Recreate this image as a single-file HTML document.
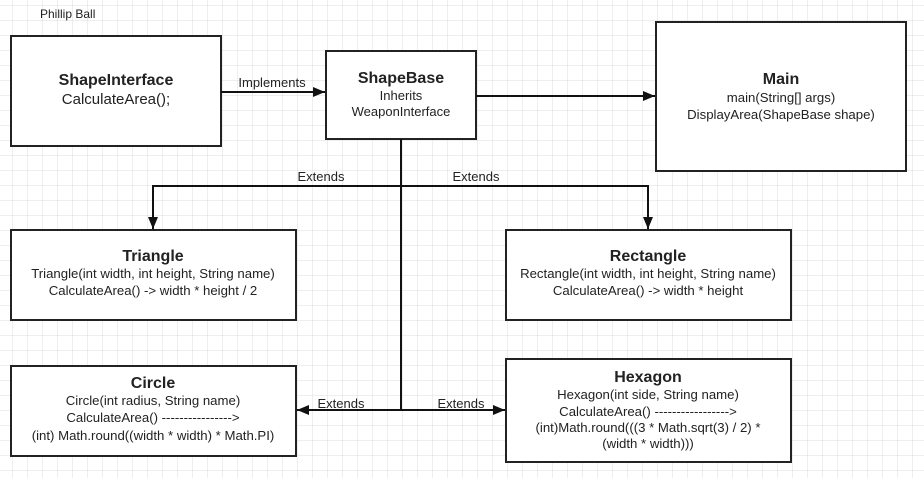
<!DOCTYPE html>
<html><head><style>
body{margin:0;width:924px;height:478px;overflow:hidden;background:#fff;}
svg text{font-family:"Liberation Sans",sans-serif;fill:#222;}
</style></head><body>
<svg width="924" height="478" xmlns="http://www.w3.org/2000/svg">
<defs>
<pattern id="g" x="12" y="5" width="15" height="15" patternUnits="userSpaceOnUse">
<path d="M0 0H15M0 0V15" stroke="#dcdcdc" stroke-width="1" fill="none"/>
</pattern>
<marker id="a" markerWidth="12" markerHeight="10" refX="12" refY="5" orient="auto" markerUnits="userSpaceOnUse">
<path d="M0 0L12 5L0 10Z" fill="#111"/></marker>
</defs>
<rect width="924" height="478" fill="url(#g)"/>
<text x="40" y="18" font-size="12">Phillip Ball</text>
<g fill="#fff" stroke="#222" stroke-width="2">
<rect x="11" y="36" width="210" height="110"/>
<rect x="326" y="51" width="150" height="88"/>
<rect x="656" y="22" width="250" height="149"/>
<rect x="11" y="230" width="285" height="90"/>
<rect x="506" y="230" width="285" height="90"/>
<rect x="11" y="366" width="285" height="90"/>
<rect x="506" y="359" width="285" height="103"/>
</g>
<g stroke="#111" stroke-width="2" fill="none">
<line x1="221" y1="92" x2="325" y2="92" marker-end="url(#a)"/>
<line x1="476" y1="96" x2="655" y2="96" marker-end="url(#a)"/>
<line x1="401" y1="139" x2="401" y2="410"/>
<path d="M401 186H153V229" marker-end="url(#a)"/>
<path d="M401 186H648V229" marker-end="url(#a)"/>
<line x1="401" y1="410" x2="297" y2="410" marker-end="url(#a)"/>
<line x1="401" y1="410" x2="505" y2="410" marker-end="url(#a)"/>
</g>
<g font-size="13">
<text x="272" y="87" text-anchor="middle">Implements</text>
<text x="321" y="181" text-anchor="middle">Extends</text>
<text x="476" y="181" text-anchor="middle">Extends</text>
<text x="341" y="408" text-anchor="middle">Extends</text>
<text x="461" y="408" text-anchor="middle">Extends</text>
</g>
<g text-anchor="middle">
<text x="116" y="85" font-size="16" font-weight="bold">ShapeInterface</text>
<text x="116" y="104" font-size="15">CalculateArea();</text>
<text x="401" y="83" font-size="16" font-weight="bold">ShapeBase</text>
<text x="401" y="100" font-size="13">Inherits</text>
<text x="401" y="116" font-size="13">WeaponInterface</text>
<text x="781" y="84" font-size="16" font-weight="bold">Main</text>
<text x="781" y="102" font-size="13.2">main(String[] args)</text>
<text x="781" y="119" font-size="13.2">DisplayArea(ShapeBase shape)</text>
<text x="153" y="261" font-size="16" font-weight="bold">Triangle</text>
<text x="153" y="278" font-size="13.2">Triangle(int width, int height, String name)</text>
<text x="153" y="295" font-size="13.2">CalculateArea() -&gt; width * height / 2</text>
<text x="648" y="261" font-size="16" font-weight="bold">Rectangle</text>
<text x="648" y="278" font-size="13.2">Rectangle(int width, int height, String name)</text>
<text x="648" y="295" font-size="13.2">CalculateArea() -&gt; width * height</text>
<text x="153" y="388" font-size="16" font-weight="bold">Circle</text>
<text x="153" y="405" font-size="13.2">Circle(int radius, String name)</text>
<text x="153" y="422" font-size="13.2">CalculateArea() ----------------&gt;</text>
<text x="153" y="440" font-size="13.2">(int) Math.round((width * width) * Math.PI)</text>
<text x="648" y="382" font-size="16" font-weight="bold">Hexagon</text>
<text x="648" y="399" font-size="13.2">Hexagon(int side, String name)</text>
<text x="648" y="416" font-size="13.2">CalculateArea() -----------------&gt;</text>
<text x="648" y="432" font-size="13.2">(int)Math.round(((3 * Math.sqrt(3) / 2) *</text>
<text x="648" y="448" font-size="13.2">(width * width)))</text>
</g>
</svg>
</body></html>
